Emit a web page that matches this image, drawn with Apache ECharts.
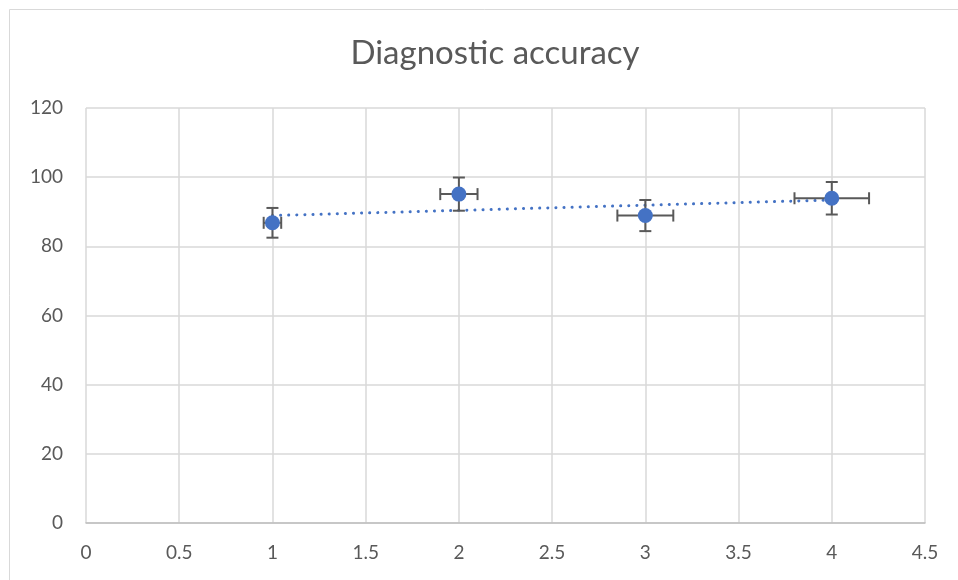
<!DOCTYPE html>
<html>
<head>
<meta charset="utf-8">
<script src="https://cdn.jsdelivr.net/npm/echarts@6/dist/echarts.min.js"></script>
<style>
  html, body { margin: 0; padding: 0; background: #fff; }
  #chart { width: 958px; height: 580px; }
</style>
</head>
<body>
<div id="chart"></div>
<script>
// 데이터
const xValues = [1, 2, 3, 4];
const yValues = [86.8, 95.1, 88.9, 93.9];
const xErrors = [0.047, 0.1, 0.15, 0.2];
const yErrors = [4.3, 4.8, 4.5, 4.7];
// 선형 추세선 끝점
const trendX = [1, 4];
const trendY = [88.9, 93.4];

const fontFamily = "Lato, 'Open Sans', sans-serif";
const textColor = '#595959';
const pointColor = '#4472C4';
const barColor = '#595959';

const chart = echarts.init(document.getElementById('chart'));

const errData = xValues.map((x, i) => [x, yValues[i], xErrors[i], yErrors[i]]);

const option = {
    backgroundColor: '#ffffff',
    animation: false,
    title: {
        text: 'Diagnostic accuracy',
        left: 490,
        top: 32,
        textAlign: 'center',
        textStyle: { fontFamily, fontSize: 33, fontWeight: 'normal', color: textColor }
    },
    graphic: [{
        type: 'rect',
        shape: { x: 9.5, y: 9.5, width: 1000, height: 1000 },
        style: { fill: 'none', stroke: '#d9d9d9', lineWidth: 1 },
        silent: true,
        z: -1
    }],
    grid: { left: 86, right: 33, top: 108, bottom: 57 },
    xAxis: {
        type: 'value',
        min: 0,
        max: 4.5,
        interval: 0.5,
        axisLine: { lineStyle: { color: '#bfbfbf', width: 1.5 } },
        axisTick: { show: false },
        axisLabel: { fontFamily, fontSize: 19, color: textColor, margin: 20 },
        splitLine: { lineStyle: { color: '#d9d9d9', width: 1.5 } }
    },
    yAxis: {
        type: 'value',
        min: 0,
        max: 120,
        interval: 20,
        axisLine: { show: false },
        axisTick: { show: false },
        axisLabel: { fontFamily, fontSize: 19, color: textColor, margin: 23 },
        splitLine: { lineStyle: { color: '#d9d9d9', width: 1.5 } }
    },
    series: [
        {
            name: 'Trend',
            type: 'line',
            data: trendX.map((x, i) => [x, trendY[i]]),
            symbol: 'none',
            lineStyle: { color: pointColor, width: 3, type: [0.1, 8], cap: 'round' },
            silent: true,
            z: 2
        },
        {
            name: 'Error',
            type: 'custom',
            data: errData,
            renderItem: (params, api) => {
                const x = api.value(0), y = api.value(1);
                const ex = api.value(2), ey = api.value(3);
                const c = api.coord([x, y]);
                const l = api.coord([x - ex, y]);
                const r = api.coord([x + ex, y]);
                const t = api.coord([x, y + ey]);
                const b = api.coord([x, y - ey]);
                const cap = 6;
                const style = { stroke: barColor, lineWidth: 2 };
                return {
                    type: 'group',
                    children: [
                        { type: 'line', shape: { x1: l[0], y1: c[1], x2: r[0], y2: c[1] }, style },
                        { type: 'line', shape: { x1: l[0], y1: c[1] - cap, x2: l[0], y2: c[1] + cap }, style },
                        { type: 'line', shape: { x1: r[0], y1: c[1] - cap, x2: r[0], y2: c[1] + cap }, style },
                        { type: 'line', shape: { x1: c[0], y1: t[1], x2: c[0], y2: b[1] }, style },
                        { type: 'line', shape: { x1: c[0] - cap, y1: t[1], x2: c[0] + cap, y2: t[1] }, style },
                        { type: 'line', shape: { x1: c[0] - cap, y1: b[1], x2: c[0] + cap, y2: b[1] }, style }
                    ]
                };
            },
            z: 3
        },
        {
            name: 'Diagnostic accuracy',
            type: 'scatter',
            data: xValues.map((x, i) => [x, yValues[i]]),
            symbol: 'circle',
            symbolSize: 15,
            itemStyle: { color: pointColor, opacity: 1 },
            z: 4
        }
    ]
};

chart.setOption(option);
</script>
</body>
</html>
